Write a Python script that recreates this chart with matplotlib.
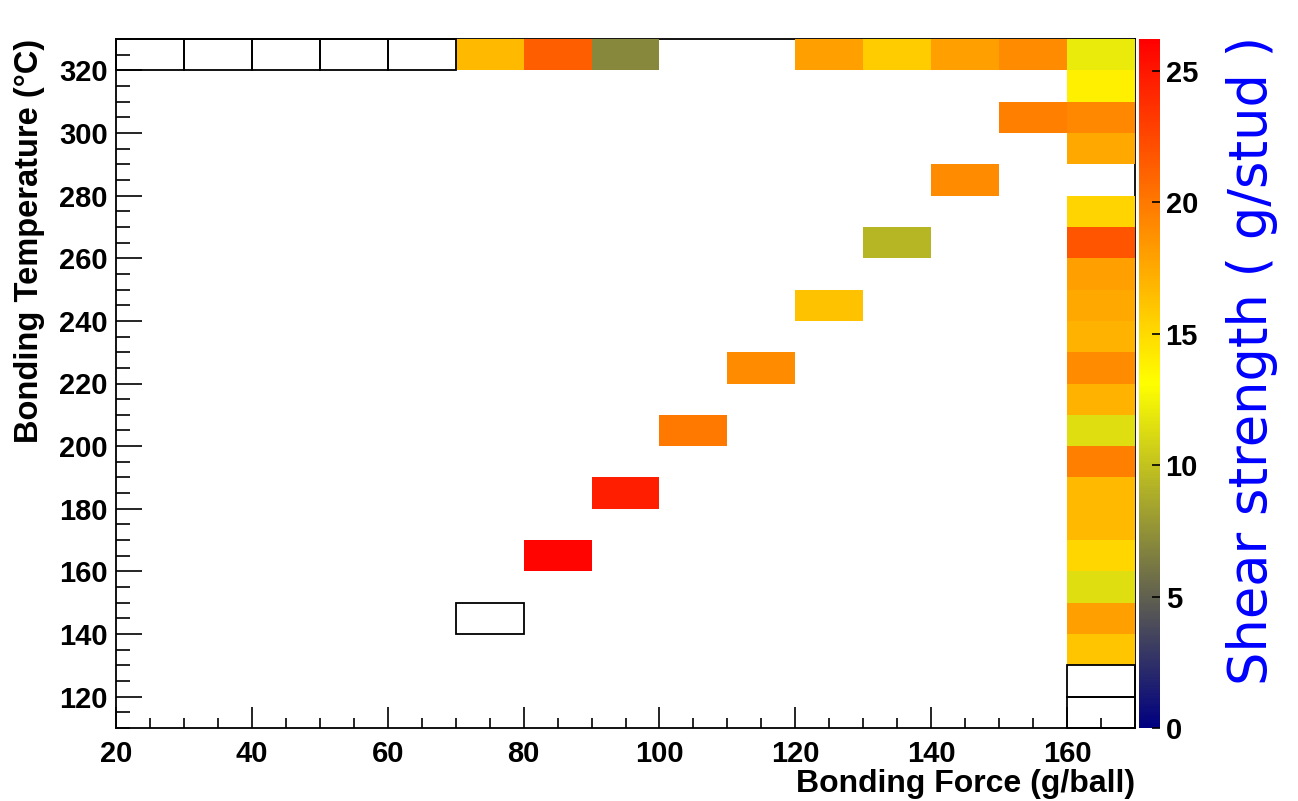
import numpy as np
import matplotlib
matplotlib.use("Agg")
import matplotlib.pyplot as plt
from matplotlib.colors import LinearSegmentedColormap
from matplotlib.patches import Rectangle

# ---- data (lower bin edges) ----
force_edges = np.arange(20, 171, 10)      # Bonding Force bins (g/ball)
temp_edges = np.arange(110, 331, 10)      # Bonding Temperature bins (C)

# filled bins: top row, right column, diagonal
force_bin = [70, 80, 90, 120, 130, 140, 150, 160,
             160, 160, 160, 160, 160, 160, 160, 160, 160, 160, 160, 160, 160, 160, 160, 160, 160, 160,
             150, 140, 130, 120, 110, 100, 90, 80]
temp_bin = [320, 320, 320, 320, 320, 320, 320, 320,
            310, 300, 290, 270, 260, 250, 240, 230, 220, 210, 200, 190, 180, 170, 160, 150, 140, 130,
            300, 280, 260, 240, 220, 200, 180, 160]
shear = [16.6, 21.3, 7.0, 18.0, 15.7, 18.0, 19.0, 12.0,
         13.9, 19.2, 17.6, 15.3, 21.9, 18.0, 17.6, 17.0, 19.0, 17.0, 11.4, 19.6, 16.6, 16.6, 15.2, 11.4, 18.0, 16.0,
         19.6, 19.0, 9.4, 16.2, 19.0, 20.0, 24.6, 25.9]

# bins drawn as empty outlined boxes
empty_force = [20, 30, 40, 50, 60, 70, 160, 160]
empty_temp = [320, 320, 320, 320, 320, 140, 120, 110]

z_max = 26.2

# ---- grid ----
grid = np.full((len(temp_edges) - 1, len(force_edges) - 1), np.nan)
for f, t, v in zip(force_bin, temp_bin, shear):
    grid[list(temp_edges).index(t), list(force_edges).index(f)] = v

cmap = LinearSegmentedColormap.from_list(
    "root", [(0.0, (0.0, 0.0, 0.5)), (0.5, (1.0, 1.0, 0.0)), (1.0, (1.0, 0.0, 0.0))], N=256)

plt.rcParams['font.family'] = ['Liberation Sans', 'DejaVu Sans']

fig = plt.figure(figsize=(12.98, 8.01), dpi=100)
ax = fig.add_axes([116 / 1298, 1 - 728 / 801, (1135 - 116) / 1298, (728 - 39) / 801])

mesh = ax.pcolormesh(force_edges, temp_edges, np.ma.masked_invalid(grid),
                     cmap=cmap, vmin=0, vmax=z_max, zorder=3)
mesh.set_clip_on(False)

for f, t in zip(empty_force, empty_temp):
    ax.add_patch(Rectangle((f, t), 10, 10, fill=False, edgecolor='black',
                           linewidth=1.3, zorder=3, clip_on=False))

ax.set_xlim(20, 170)
ax.set_ylim(110, 330)

ax.set_xticks(np.arange(20, 161, 20))
ax.set_xticks(np.arange(20, 171, 5), minor=True)
ax.set_yticks(np.arange(120, 321, 20))
ax.set_yticks(np.arange(110, 331, 5), minor=True)

ax.tick_params(axis='both', which='both', direction='in', top=False, right=False,
               width=1.2, color='black')
ax.tick_params(axis='x', which='major', length=15, pad=9)
ax.tick_params(axis='x', which='minor', length=7.5)
ax.tick_params(axis='y', which='major', length=19, pad=6)
ax.tick_params(axis='y', which='minor', length=10)
for lab in ax.get_xticklabels() + ax.get_yticklabels():
    lab.set_fontsize(21)
    lab.set_fontweight('bold')

for sp in ax.spines.values():
    sp.set_linewidth(1.3)

ax.set_xlabel("Bonding Force (g/ball)", fontsize=23, fontweight='bold', loc='right')
ax.xaxis.set_label_coords(1.0, -0.06)
ax.set_ylabel("Bonding Temperature (°C)", fontsize=23.5, fontweight='bold', loc='top')
ax.yaxis.set_label_coords(-0.07, 1.0)

cax = fig.add_axes([1139 / 1298, 1 - 728 / 801, 21 / 1298, (728 - 39) / 801])
cb = fig.colorbar(mesh, cax=cax)
cb.outline.set_visible(False)
cb.set_ticks(np.arange(0, 26, 5))
cax.tick_params(direction='in', length=6, width=1.2, pad=4, labelsize=21)
for lab in cax.get_yticklabels():
    lab.set_fontweight('bold')
cax.minorticks_off()

fig.text(1252 / 1298, 1 - 360 / 801, "Shear strength ( g/stud )", rotation=90,
         color='#0000ff', fontsize=38, family='DejaVu Sans', ha='center', va='center')

fig.savefig("out.png", dpi=100)
